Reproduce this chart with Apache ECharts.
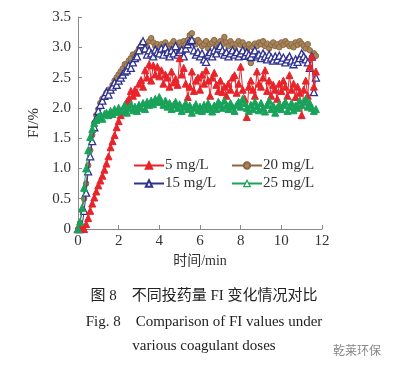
<!DOCTYPE html>
<html><head><meta charset="utf-8">
<script src="https://cdn.jsdelivr.net/npm/echarts@6/dist/echarts.min.js"></script>
<style>html,body{margin:0;padding:0;background:#fff}#c{width:408px;height:371px}</style>
</head><body><div id="c"></div>
<script>
// time (min)
var times = [
0,0.1,0.2,0.3,0.4,0.5,0.6,0.7,0.8,0.9,
1.0,1.1,1.2,1.3,1.4,1.5,1.6,1.7,1.8,1.9,
2.0,2.1,2.2,2.3,2.4,2.5,2.6,2.7,2.8,2.9,
3.0,3.1,3.2,3.3,3.4,3.5,3.6,3.7,3.8,3.9,
4.0,4.1,4.2,4.3,4.4,4.5,4.6,4.7,4.8,4.9,
5.0,5.1,5.2,5.3,5.4,5.5,5.6,5.7,5.8,5.9,
6.0,6.1,6.2,6.3,6.4,6.5,6.6,6.7,6.8,6.9,
7.0,7.1,7.2,7.3,7.4,7.5,7.6,7.7,7.8,7.9,
8.0,8.1,8.2,8.3,8.4,8.5,8.6,8.7,8.8,8.9,
9.0,9.1,9.2,9.3,9.4,9.5,9.6,9.7,9.8,9.9,
10.0,10.1,10.2,10.3,10.4,10.5,10.6,10.7,10.8,10.9,
11.0,11.1,11.2,11.3,11.4,11.5,11.6,11.7];

var fi5 = [
0,0,0,0,0.08,0.18,0.3,0.42,0.52,0.62,
0.72,0.8,0.88,0.98,1.08,1.2,1.35,1.45,1.55,1.68,
1.78,1.88,1.95,2.02,2.1,2.15,2.28,2.2,2.3,2.25,
2.4,2.46,2.35,2.62,2.5,2.72,2.45,2.7,2.55,2.68,
2.52,2.62,2.4,2.55,2.5,2.35,2.6,2.42,2.48,2.38,
2.82,2.55,2.66,2.4,2.18,2.35,2.6,2.28,2.45,2.5,
2.3,2.55,2.4,2.62,2.45,2.2,2.5,2.58,2.38,2.28,
2.45,2.26,2.35,2.2,2.4,2.3,2.5,2.54,2.25,2.4,
2.68,2.3,2.15,1.85,2.35,2.45,2.3,2.2,2.6,2.4,
2.35,2.5,2.62,2.28,2.45,2.2,2.38,2.3,2.15,2.4,
2.28,2.45,2.35,2.2,2.54,2.3,2.4,2.18,2.35,2.25,
1.88,2.3,2.45,2.2,2.68,2.84,2.35,2.6];

var fi15 = [
0,0,0.05,0.3,0.6,0.95,1.2,1.45,1.68,1.83,
1.95,2.05,2.12,2.2,2.26,2.22,2.3,2.35,2.42,2.38,
2.45,2.5,2.55,2.6,2.62,2.7,2.66,2.75,2.82,2.85,
2.95,3.05,3.1,2.98,2.88,2.95,2.9,2.85,2.96,2.92,
2.9,2.98,2.88,3.0,2.92,2.85,2.95,2.9,3.02,2.88,
2.92,2.96,2.85,2.98,3.05,3.1,3.12,2.95,2.88,2.92,
2.85,2.9,2.8,2.76,2.88,2.92,2.85,2.95,2.9,2.98,
3.02,2.95,2.88,2.92,2.85,2.9,2.95,2.88,2.92,2.85,
2.9,2.95,2.86,2.92,2.88,2.84,2.9,2.95,2.85,2.88,
2.82,2.9,2.85,2.8,2.88,2.83,2.78,2.85,2.8,2.86,
2.78,2.83,2.75,2.8,2.85,2.78,2.72,2.8,2.76,2.82,
2.9,2.85,2.8,2.75,2.66,2.85,2.26,2.5];

var fi20 = [
0,0.1,0.3,0.5,0.75,1.05,1.3,1.55,1.75,1.88,
1.98,2.08,2.15,2.18,2.25,2.3,2.28,2.38,2.45,2.5,
2.55,2.6,2.65,2.72,2.7,2.78,2.82,2.88,2.85,2.92,
2.98,3.02,2.95,3.05,3.0,3.1,3.15,3.08,3.02,3.05,
3.0,3.05,2.98,3.08,3.02,2.98,3.05,3.1,3.0,3.04,
3.08,3.02,3.1,3.05,3.12,3.2,3.23,3.1,3.05,3.12,
3.08,3.02,3.05,3.1,2.98,3.05,3.08,3.12,3.02,3.06,
3.1,3.05,3.17,3.08,3.02,3.1,3.05,2.98,3.06,3.1,
3.04,3.08,3.02,2.98,3.05,2.74,3.0,3.06,3.02,3.08,
3.05,3.1,3.02,3.06,2.98,3.04,3.08,3.02,3.05,3.0,
3.08,3.04,3.1,3.06,3.02,3.05,3.0,3.08,3.04,3.1,
3.06,3.02,2.98,3.05,2.95,2.84,2.9,2.86];

var fi25 = [
0,0.12,0.35,0.68,1.0,1.3,1.52,1.65,1.75,1.8,
1.85,1.88,1.82,1.9,1.92,1.88,1.95,1.9,1.98,1.93,
2.0,1.95,1.98,2.05,1.92,2.0,2.06,1.96,2.02,1.95,
2.05,2.0,2.08,1.98,2.1,2.05,2.12,2.06,2.15,2.1,
2.18,2.1,2.05,2.12,2.02,2.08,1.98,2.05,2.1,2.0,
2.06,1.95,2.02,2.08,1.98,2.04,1.92,2.0,2.06,1.96,
2.02,1.95,2.05,1.98,2.08,2.0,1.94,2.04,1.98,2.1,
2.05,2.0,2.12,2.04,1.98,2.08,2.02,1.95,2.05,2.1,
2.02,2.15,2.08,2.0,1.95,2.05,1.98,2.1,2.03,1.96,
2.08,2.0,1.94,2.05,2.12,1.98,2.04,1.92,2.0,2.06,
1.98,2.05,2.1,1.95,2.02,2.08,1.96,2.04,2.0,2.12,
2.05,2.1,2.15,2.02,2.08,2.0,1.95,1.98];

var seriesNames = ['5 mg/L','15 mg/L','20 mg/L','25 mg/L'];
var xTicks = {min:0, max:12, interval:2};
var yTicks = {min:0, max:3.5, interval:0.5};

function pairs(v){ return v.map(function(y,i){ return [times[i], y]; }); }

var serif = '"Liberation Serif","Noto Sans CJK SC",serif';
var chart = echarts.init(document.getElementById('c'), null, {renderer:'canvas'});
var RED='#e8242a', BLUE='#2e3190', BROWN='#8a6640', GREEN='#19a25a';

chart.setOption({
  animation:false,
  grid:{left:78, right:86, top:17, bottom:142},
  xAxis:{type:'value', min:xTicks.min, max:xTicks.max, interval:xTicks.interval,
    name:'时间/min', nameLocation:'middle', nameGap:24,
    nameTextStyle:{fontFamily:serif, fontSize:14, color:'#333'},
    axisLine:{lineStyle:{color:'#8a8a8a', width:1}},
    axisTick:{inside:true, length:4, lineStyle:{color:'#8a8a8a'}},
    axisLabel:{fontFamily:serif, fontSize:15, color:'#333', margin:5},
    splitLine:{show:false}},
  yAxis:{type:'value', min:yTicks.min, max:yTicks.max, interval:yTicks.interval,
    name:'FI/%', nameLocation:'middle', nameGap:34, nameRotate:90,
    nameTextStyle:{fontFamily:serif, fontSize:15, color:'#333'},
    axisLine:{show:true, lineStyle:{color:'#8a8a8a', width:1}},
    axisTick:{show:true, inside:true, length:4, lineStyle:{color:'#8a8a8a'}},
    axisLabel:{fontFamily:serif, fontSize:15, color:'#333', margin:7,
      formatter:function(v){ return v===0 ? '0' : v.toFixed(1); }},
    splitLine:{show:false}},
  legend:[
    {orient:'vertical', left:128, top:153, itemWidth:30, itemHeight:8, itemGap:3,
     textStyle:{fontFamily:serif, fontSize:15, color:'#333', padding:[0,0,0,-4]},
     data:['5 mg/L','15 mg/L']},
    {orient:'vertical', left:226, top:153, itemWidth:30, itemHeight:8, itemGap:3,
     textStyle:{fontFamily:serif, fontSize:15, color:'#333', padding:[0,0,0,-4]},
     data:['20 mg/L',{name:'25 mg/L', itemStyle:{color:'#fff', borderColor:GREEN, borderWidth:1.2}}]}
  ],
  series:[
    {name:'20 mg/L', type:'line', data:pairs(fi20), symbol:'circle', symbolSize:5.5,
     lineStyle:{color:BROWN, width:1}, itemStyle:{color:'#a8865c', borderColor:BROWN, borderWidth:1}, z:2},
    {name:'15 mg/L', type:'line', data:pairs(fi15), symbol:'triangle', symbolSize:7,
     lineStyle:{color:BLUE, width:1}, itemStyle:{color:'#ffffff', borderColor:BLUE, borderWidth:1.3}, z:3},
    {name:'5 mg/L', type:'line', data:pairs(fi5), symbol:'triangle', symbolSize:7,
     lineStyle:{color:RED, width:1}, itemStyle:{color:RED, borderColor:RED, borderWidth:1}, z:4},
    {name:'25 mg/L', type:'line', data:pairs(fi25), symbol:'triangle', symbolSize:7,
     lineStyle:{color:GREEN, width:1}, itemStyle:{color:GREEN, borderColor:GREEN, borderWidth:1}, z:5}
  ],
  graphic:[
    {type:'text', left:'center', top:289, style:{text:'图 8　不同投药量 FI 变化情况对比', font:'15px '+serif, fill:'#222'}},
    {type:'text', left:'center', top:315, style:{text:'Fig. 8　Comparison of FI values under', font:'15px '+serif, fill:'#222'}},
    {type:'text', left:'center', top:339, style:{text:'various coagulant doses', font:'15px '+serif, fill:'#222'}},
    {type:'text', left:333, top:344, style:{text:'乾莱环保', font:'12px "Noto Sans CJK SC",sans-serif', fill:'#888'}}
  ]
});
</script></body></html>
